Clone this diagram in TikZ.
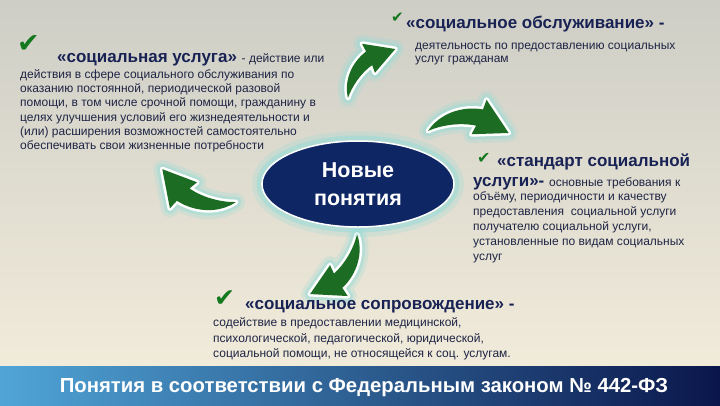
\documentclass[tikz,border=0pt]{standalone}
\usepackage{fontspec}
\setmainfont{Liberation Sans}
\newfontfamily\symfont{DejaVu Sans}
\usetikzlibrary{shapes.geometric}
\definecolor{bgtop}{RGB}{206,206,198}
\definecolor{bgbot}{RGB}{241,235,218}
\definecolor{navy}{RGB}{14,38,100}
\definecolor{titlecol}{RGB}{24,34,84}
\definecolor{bodycol}{RGB}{30,36,68}
\definecolor{arrowgreen}{RGB}{28,108,36}
\definecolor{glowcol}{RGB}{150,220,215}
\definecolor{bandL}{RGB}{80,165,215}
\definecolor{bandM}{RGB}{25,70,145}
\definecolor{bandR}{RGB}{10,22,75}
\definecolor{checkgreen}{RGB}{20,120,30}
\tikzset{
  txt/.style={anchor=base west, inner sep=0pt, text=bodycol, font=\fontsize{12}{14}\selectfont},
  ttl/.style={anchor=base west, inner sep=0pt, text=titlecol, font=\fontsize{17}{20}\selectfont\bfseries},
  chk/.style={anchor=base west, inner sep=0pt, text=checkgreen},
  swooshfill/.style={fill=arrowgreen,
    preaction={draw=glowcol, line width=18pt, opacity=.25, line join=round},
    preaction={draw=glowcol, line width=11pt, opacity=.45, line join=round},
    preaction={draw=white, line width=5pt, line join=round}},
  pics/swoosh/.style={code={
    \path[swooshfill] (0,0) .. controls (10,16) and (30,24) .. (50,21) -- (53,30) -- (74,0) -- (40,-2) -- (44,6) .. controls (28,9) and (10,5) .. (0,0) -- cycle;
  }}
}
\begin{document}
\begin{tikzpicture}[x=1pt,y=-1pt]
\useasboundingbox (0,0) rectangle (720,405);
% background
\fill[top color=bgtop, bottom color=bgbot] (0,0) rectangle (720,366);
\fill[left color=bandL, middle color=bandM, right color=bandR] (0,366) rectangle (720,405);
% arrows
\pic[rotate=46, yscale=-1, scale=0.92] at (348,98) {swoosh};
\pic[rotate=-1.4, yscale=-1, scale=1.09] at (428,131) {swoosh};
\pic[rotate=156, yscale=-1, scale=1.09] at (236,202) {swoosh};
\pic[rotate=232, yscale=-1, scale=1.03] at (357,234) {swoosh};
% central ellipse
\draw[glowcol, line width=20pt, opacity=.25] (358,184) ellipse [x radius=96, y radius=43];
\draw[glowcol, line width=11pt, opacity=.5] (358,184) ellipse [x radius=96, y radius=43];
\node[ellipse, minimum width=192pt, minimum height=86pt, fill=navy, draw=white, line width=1.5pt,
      text=white, align=center, font=\fontsize{21.5}{28}\selectfont\bfseries] (core) at (358,184) {Новые\\понятия};
% left block
\node[chk, font=\symfont\fontsize{27}{27}\selectfont] (chkA) at (17,52) {✔};
\node[ttl] (tA) at (57,62) {«социальная услуга» {\fontsize{12}{14}\selectfont\mdseries\color{bodycol}- действие или}};
\foreach \t [count=\i] in {{действия в сфере социального обслуживания по},
  {оказанию постоянной, периодической разовой},
  {помощи, в том числе срочной помощи, гражданину в},
  {целях улучшения условий его жизнедеятельности и},
  {(или) расширения возможностей самостоятельно},
  {обеспечивать свои жизненные потребности}}
  \node[txt] (bA\i) at (20,64.3+14.2*\i) {\t};
% top right block
\node[chk, font=\symfont\fontsize{15}{15}\selectfont] (chkB) at (391,22) {✔};
\node[ttl] (tB) at (406,28) {«социальное обслуживание» -};
\node[txt] (bB1) at (415,49) {деятельность по предоставлению социальных};
\node[txt] (bB2) at (415,62) {услуг гражданам};
% right block
\node[chk, font=\symfont\fontsize{16}{16}\selectfont] (chkC) at (477,163) {✔};
\node[ttl] (tC1) at (497,166) {«стандарт социальной};
\node[ttl] (tC2) at (473,186) {услуги»- {\fontsize{12}{14}\selectfont\mdseries\color{bodycol}основные требования к}};
\foreach \t [count=\i] in {{объёму, периодичности и качеству},
  {предоставления \ социальной услуги},
  {получателю социальной услуги,},
  {установленные по видам социальных},
  {услуг}}
  \node[txt] (bC\i) at (473,186+14.8*\i) {\t};
% bottom block
\node[chk, font=\symfont\fontsize{25}{25}\selectfont] (chkD) at (214,306) {✔};
\node[ttl] (tD) at (245,309) {«социальное сопровождение» -};
\node[txt] (bD1) at (213,326) {содействие в предоставлении медицинской,};
\node[txt] (bD2) at (213,342) {психологической, педагогической, юридической,};
\node[txt] (bD3) at (213,357) {социальной помощи, не относящейся к соц. услугам.};
% banner
\node[anchor=base, inner sep=0pt, text=white, font=\fontsize{20.3}{24}\selectfont\bfseries] (tE) at (364,392) {Понятия в соответствии с Федеральным законом № 442-ФЗ};
\end{tikzpicture}
\end{document}
